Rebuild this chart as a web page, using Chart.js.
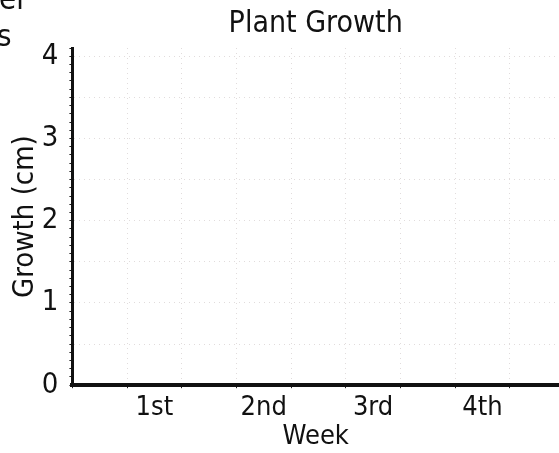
<!DOCTYPE html>
<html>
<head>
<meta charset="utf-8">
<script src="https://cdn.jsdelivr.net/npm/chart.js@4"></script>
<style>
  html, body { margin: 0; padding: 0; background: #fff; overflow: hidden; }
  #wrap { position: relative; width: 559px; height: 453px; }
  .scrap { position: absolute; font-family: 'DejaVu Sans Condensed', 'DejaVu Sans', sans-serif; font-size: 31px; color: #111; line-height: 1; }
</style>
</head>
<body>
<div id="wrap">
  <canvas id="myChart" width="559" height="453"></canvas>
  <div class="scrap" style="left:-1px; top:-17px;">er</div>
  <div class="scrap" style="left:-3px; top:20px;">s</div>
</div>
<script>
// data (the chart is an empty worksheet)
var weeks = ['1st', '2nd', '3rd', '4th'];
var growthTicks = [0, 1, 2, 3, 4];
var growth = [];

var font = "'DejaVu Sans Condensed', 'DejaVu Sans', sans-serif";

var ctx = document.getElementById('myChart').getContext('2d');
var myChart = new Chart(ctx, {
    type: 'scatter',
    data: {
      datasets: [{
          data: growth,
          label: 'Growth',
          borderColor: '#111',
          backgroundColor: '#111'
        }]
    },
    options: {
      responsive: false,
      animation: false,
      layout: { padding: { left: 8, right: 0, top: 6, bottom: 0 } },
      plugins: {
        legend: { display: false },
        tooltip: { enabled: false },
        title: {
            display: true,
            fullSize: false,
            text: 'Plant Growth',
            color: '#111',
            font: { family: font, size: 30, weight: 'normal' },
            padding: { top: 0, bottom: 6 }
        }
      },
      scales: {
        y: {
          min: 0,
          max: 4.1,
          afterBuildTicks: function (axis) {
            var t = [];
            for (var i = 0; i <= 41; i++) t.push({ value: i / 10 });
            axis.ticks = t;
          },
          ticks: {
            autoSkip: false,
            color: '#111',
            padding: 11,
            font: { family: font, size: 29 },
            callback: function (v) {
              var r = Math.round(v);
              return (Math.abs(v - r) < 1e-6 && growthTicks.indexOf(r) >= 0) ? String(r) : '';
            }
          },
          grid: {
            tickLength: 3,
            tickColor: '#222',
            color: function (c) {
              var v = c.tick ? c.tick.value : 0;
              return Math.abs(v * 2 - Math.round(v * 2)) < 1e-6 && v > 0 ? 'rgba(120,95,95,0.22)' : 'rgba(0,0,0,0)';
            }
          },
          border: { color: '#111', width: 3, dash: [1, 4] },
          title: {
            display: true,
            text: 'Growth (cm)',
            color: '#111',
            font: { family: font, size: 29 },
            padding: { top: 0, bottom: -12 }
          }
        },
        x: {
          min: 0,
          max: 8.9,
          position: 'bottom',
          ticks: { display: false, stepSize: 1 },
          grid: {
            tickLength: 3,
            tickColor: '#222',
            color: 'rgba(120,95,95,0.22)'
          },
          border: { color: '#111', width: 4, dash: [1, 4] }
        },
        x2: {
          type: 'linear',
          min: 0,
          max: 8.9,
          position: 'bottom',
          afterBuildTicks: function (axis) {
            axis.ticks = weeks.map(function (w, i) { return { value: 1.5 + 2 * i }; });
          },
          ticks: {
            autoSkip: false,
            maxRotation: 0,
            color: '#111',
            padding: 4,
            font: { family: font, size: 27 },
            callback: function (v) {
              var i = Math.round((v - 1.5) / 2);
              return weeks[i] || '';
            }
          },
          grid: { display: false, drawTicks: false },
          border: { display: false },
          title: {
            display: true,
            text: 'Week',
            color: '#111',
            font: { family: font, size: 27 },
            padding: { top: -8, bottom: 0 }
          }
        }
      }
    }
});
</script>
</body>
</html>
